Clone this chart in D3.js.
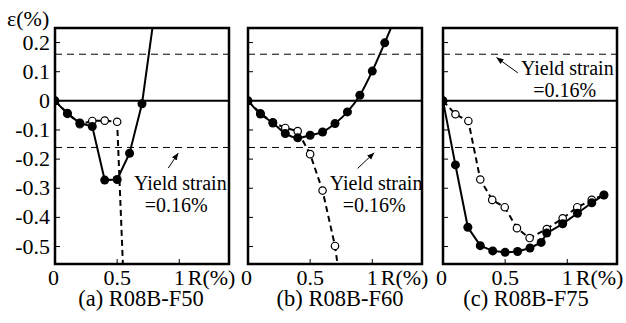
<!DOCTYPE html>
<html><head><meta charset="utf-8">
<script src="https://cdn.jsdelivr.net/npm/d3@7"></script>
<style>body{margin:0;background:#fff}svg{display:block}</style>
</head><body>
<svg id="c" width="626" height="323"></svg>
<script>
// ---- data ----
const panelTitles = ["(a) R08B-F50", "(b) R08B-F60", "(c) R08B-F75"];
const yTicks = [0.2, 0.1, 0, -0.1, -0.2, -0.3, -0.4, -0.5];
const yTickLabels = ["0.2", "0.1", "0", "-0.1", "-0.2", "-0.3", "-0.4", "-0.5"];
const xTicks = [0, 0.5, 1];
const xTickLabels = ["0", "0.5", "1"];
const yieldStrain = 0.16;

// Panel (a)
const aFilledR = [0, 0.1, 0.2, 0.3, 0.4, 0.5, 0.6, 0.7, 0.8];
const aFilledE = [0, -0.044, -0.076, -0.088, -0.272, -0.27, -0.18, -0.01, 0.30];
const aOpenR = [0, 0.1, 0.2, 0.3, 0.4, 0.5, 0.55];
const aOpenE = [0, -0.042, -0.08, -0.069, -0.068, -0.072, -0.60];
// Panel (b)
const bFilledR = [0, 0.1, 0.2, 0.3, 0.4, 0.5, 0.6, 0.7, 0.8, 0.9, 1.0, 1.1, 1.2];
const bFilledE = [0, -0.045, -0.076, -0.112, -0.127, -0.118, -0.107, -0.078, -0.038, 0.019, 0.102, 0.199, 0.30];
const bOpenR = [0, 0.1, 0.2, 0.3, 0.4, 0.5, 0.6, 0.7, 0.75];
const bOpenE = [0, -0.043, -0.074, -0.093, -0.104, -0.183, -0.308, -0.498, -0.65];
// Panel (c)
const cFilledR = [0, 0.1, 0.2, 0.3, 0.4, 0.5, 0.6, 0.7, 0.79, 0.835, 0.963, 1.082, 1.197, 1.295];
const cFilledE = [0, -0.22, -0.434, -0.497, -0.515, -0.52, -0.517, -0.505, -0.486, -0.454, -0.422, -0.386, -0.35, -0.323];
const cOpenR = [0, 0.1, 0.204, 0.3, 0.396, 0.497, 0.595, 0.697, 0.835, 0.963, 1.08, 1.197, 1.295];
const cOpenE = [0, -0.046, -0.069, -0.27, -0.34, -0.365, -0.437, -0.471, -0.44, -0.403, -0.365, -0.34, -0.323];

// annotation anchors (data units): text centre R, baseline eps for two lines; arrow tail/tip
const annot = [
  {t1: [1.008, -0.306], t2: [0.976, -0.382], tail: [0.911, -0.231], tip: [0.992, -0.179]},
  {t1: [1.03, -0.306], t2: [1.016, -0.382], tail: [0.882, -0.232], tip: [1.016, -0.178]},
  {t1: [1.0, 0.0885], t2: [0.98, 0.014], tail: [0.602, 0.096], tip: [0.43, 0.149]}
];

const panels = [
  {filled: aFilledR.map((r,i)=>[r,aFilledE[i]]), open: aOpenR.map((r,i)=>[r,aOpenE[i]]), titleX: 141},
  {filled: bFilledR.map((r,i)=>[r,bFilledE[i]]), open: bOpenR.map((r,i)=>[r,bOpenE[i]]), titleX: 340},
  {filled: cFilledR.map((r,i)=>[r,cFilledE[i]]), open: cOpenR.map((r,i)=>[r,cOpenE[i]]), titleX: 526}
];
const lefts = [55, 248, 443];
const W = 174, plotTop = 28, plotBottom = 264;
const FONT = "Liberation Serif";

const svg = d3.select("#c");
const defs = svg.append("defs");
defs.append("marker").attr("id","ah").attr("viewBox","-8 -4 9 8")
  .attr("refX",0).attr("refY",0).attr("markerWidth",8).attr("markerHeight",8)
  .attr("markerUnits","userSpaceOnUse").attr("orient","auto")
  .append("path").attr("d","M0,0 L-8,-3.2 L-8,3.2 Z").attr("fill","#000");

function txt(sel) { return sel.attr("font-family", FONT).attr("fill","#000"); }

txt(svg.append("text")).attr("x",7).attr("y",26).attr("font-size",22).text("ε(%)");

panels.forEach((p, k) => {
  const L = lefts[k];
  const x = d3.scaleLinear([0, 1.4], [L, L + W]);
  const y = d3.scaleLinear([-0.56, 0.25], [plotBottom, plotTop]);
  const g = svg.append("g");
  const cid = "clip" + k;
  defs.append("clipPath").attr("id", cid)
    .append("rect").attr("x", L).attr("y", plotTop).attr("width", W).attr("height", plotBottom - plotTop);

  g.selectAll(".yt").data(yTicks).join("line")
    .attr("x1", L).attr("x2", L + 5).attr("y1", d=>y(d)).attr("y2", d=>y(d))
    .attr("stroke","#000").attr("stroke-width",1);
  g.selectAll(".xt").data(xTicks.filter(d=>d>0)).join("line")
    .attr("x1", d=>x(d)).attr("x2", d=>x(d)).attr("y1", plotBottom).attr("y2", plotBottom - 5)
    .attr("stroke","#000").attr("stroke-width",1);

  if (k === 0) {
    txt(g.selectAll(".yl").data(yTicks).join("text"))
      .attr("x", L - 5).attr("y", d=>y(d) + 7).attr("text-anchor","end").attr("font-size",22)
      .text((d,i)=>yTickLabels[i]);
  }
  txt(g.selectAll(".xl").data(xTicks).join("text"))
    .attr("x", d=>x(d) - (d===0?1.5:0)).attr("y", 284.5).attr("text-anchor","middle").attr("font-size",22)
    .text((d,i)=>xTickLabels[i]);
  txt(g.append("text")).attr("x", x(1) + 8.5).attr("y", 284.5).attr("font-size",22).text("R(%)");

  [yieldStrain, -yieldStrain].forEach(v => {
    g.append("line").attr("x1", L).attr("x2", L + W).attr("y1", y(v)).attr("y2", y(v))
      .attr("stroke","#000").attr("stroke-width",1).attr("stroke-dasharray","7,5");
  });
  g.append("line").attr("x1", L).attr("x2", L + W).attr("y1", y(0)).attr("y2", y(0))
    .attr("stroke","#000").attr("stroke-width",2);

  const line = d3.line().x(d=>x(d[0])).y(d=>y(d[1]));
  const lineS = d3.line().x(d=>x(d[0])).y(d=>y(d[1])).curve(k===1?d3.curveMonotoneX:d3.curveLinear);
  const cg = g.append("g").attr("clip-path", `url(#${cid})`);
  cg.append("path").attr("d", line(p.open)).attr("fill","none").attr("stroke","#000")
    .attr("stroke-width",2).attr("stroke-dasharray","6,4");
  cg.selectAll(".oc").data(p.open.filter(d=>d[1]>-0.56 && d[1]<0.25)).join("circle")
    .attr("cx", d=>x(d[0])).attr("cy", d=>y(d[1])).attr("r",3.7)
    .attr("fill","#fff").attr("stroke","#000").attr("stroke-width",1.2);
  cg.append("path").attr("d", lineS(p.filled)).attr("fill","none").attr("stroke","#000").attr("stroke-width",2);
  cg.selectAll(".fc").data(p.filled.filter(d=>d[1]>-0.56 && d[1]<0.25)).join("circle")
    .attr("cx", d=>x(d[0])).attr("cy", d=>y(d[1])).attr("r",4.5).attr("fill","#000");

  const a = annot[k];
  txt(g.append("text")).attr("x", x(a.t1[0])).attr("y", y(a.t1[1])).attr("text-anchor","middle")
    .attr("font-size",20).text("Yield strain");
  txt(g.append("text")).attr("x", x(a.t2[0])).attr("y", y(a.t2[1])).attr("text-anchor","middle")
    .attr("font-size",20).text("=0.16%");
  g.append("line").attr("x1", x(a.tail[0])).attr("y1", y(a.tail[1]))
    .attr("x2", x(a.tip[0])).attr("y2", y(a.tip[1]))
    .attr("stroke","#000").attr("stroke-width",1).attr("marker-end","url(#ah)");

  g.append("rect").attr("x", L).attr("y", plotTop).attr("width", W).attr("height", plotBottom - plotTop)
    .attr("fill","none").attr("stroke","#000").attr("stroke-width",2.5);

  txt(svg.append("text")).attr("x", p.titleX).attr("y", 305.5).attr("text-anchor","middle")
    .attr("font-size",22.5).text(panelTitles[k]);
});
</script>
</body></html>
